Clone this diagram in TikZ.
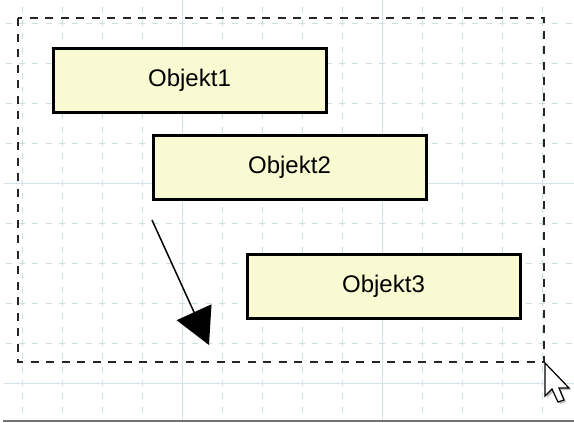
\documentclass[tikz,border=0pt]{standalone}
\usepackage{fontspec}
\setmainfont{Liberation Sans}
\usetikzlibrary{arrows.meta}
\definecolor{gridminor}{RGB}{200,224,224}
\definecolor{gridmajor}{RGB}{210,226,230}
\definecolor{objfill}{RGB}{250,250,210}
\newcommand{\px}{1pt}

\begin{document}
\begin{tikzpicture}[x=\px, y=-\px,
    rect/.style={draw, rectangle, line width=3pt, fill=objfill, minimum width=273pt, minimum height=64pt, inner sep=0pt, font=\fontsize{24}{28}\selectfont},
    minor/.style={gridminor, line width=1pt, dash pattern=on 6pt off 7.33pt},
    major/.style={gridmajor, line width=1pt},
    selection/.style={draw=black!85, line width=2pt, dash pattern=on 8pt off 7.5pt}]
    \useasboundingbox (0,0) rectangle (574,423);
    \fill[white] (0,0) rectangle (574,423);

    % Grid
    \begin{scope}
        \clip (4,0) rectangle (574,420);
        \foreach \x in {22,62,...,542} \draw[minor] (\x,-20) -- (\x,440);
        \foreach \y in {23,63,...,423} \draw[minor] (-21,\y) -- (600,\y);
        \foreach \x in {182,382} \draw[major] (\x,0) -- (\x,420);
        \foreach \y in {183,383} \draw[major] (4,\y) -- (574,\y);
    \end{scope}
    \draw[black!55, line width=2pt] (3,421) -- (574,421);

    % Selection frame
    \draw[selection] (18,18) rectangle (544,362);

    % Objects
    \node[rect] (obj-1) at (189.5,80) {Objekt1};
    \node[rect] (obj-2) at (289.5,167.5) {Objekt2};
    \node[rect] (obj-3) at (383.5,286) {Objekt3};

    % Arrow
    \coordinate (arrow-start) at (152,220);
    \coordinate (arrow-end) at (209,345);
    \draw[line width=1.5pt, -{Triangle[length=36pt, width=38pt]}] (arrow-start) -- (arrow-end);

    % Mouse pointer
    \begin{scope}[shift={(545,363)}]
        \fill[black, opacity=0.25] (2,2) -- (2,35) -- (9,28) -- (15,41) -- (21,39) -- (16,27) -- (26,27) -- cycle;
        \filldraw[fill=white, draw=black, line width=1.2pt, line join=miter] (0,0) -- (0,33) -- (7,26) -- (13,39) -- (19,37) -- (14,25) -- (24,25) -- cycle;
    \end{scope}
\end{tikzpicture}
\end{document}
